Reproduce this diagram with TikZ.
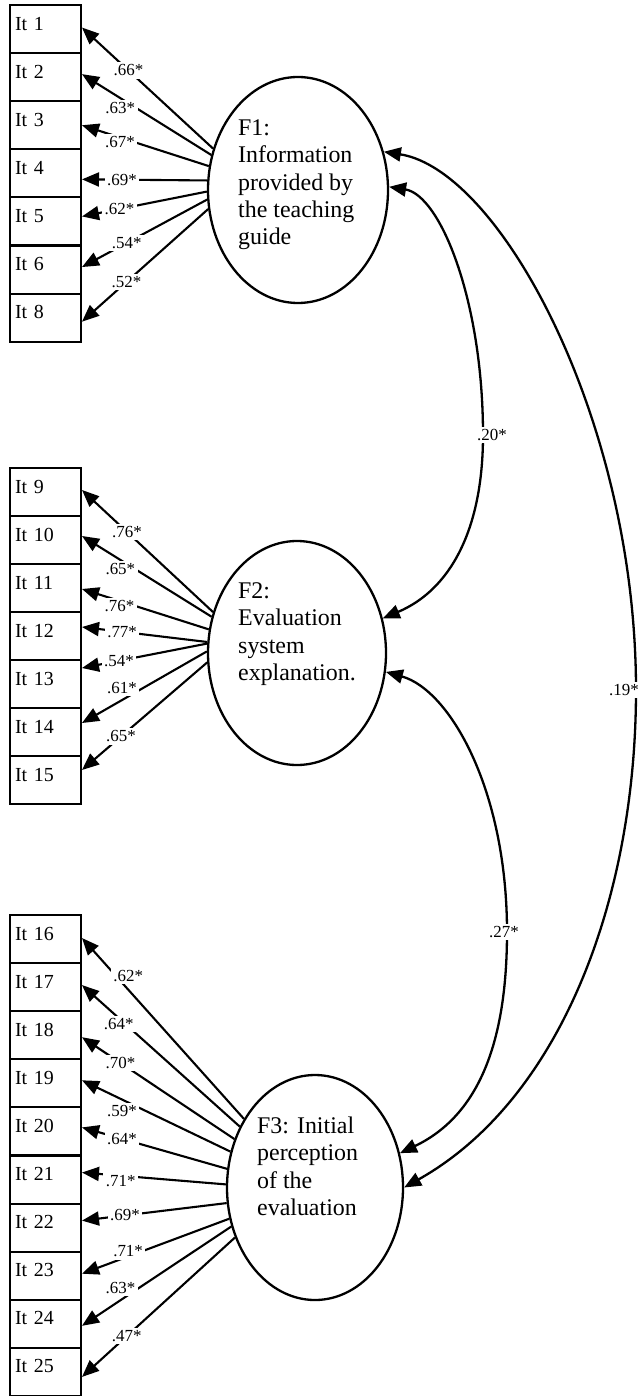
\documentclass[tikz,border=0pt]{standalone}
\usepackage{fontspec}
\setmainfont{Liberation Serif}
\usetikzlibrary{arrows.meta,calc,shapes.geometric}
\begin{document}
\begin{tikzpicture}[x=1bp,y=-1bp,
  >={Triangle[length=17bp,width=14bp]},
  item/.style={draw,line width=2bp,rectangle,inner xsep=5bp,inner ysep=0pt,
    text width=61bp,align=left,text height=25bp,text depth=23bp,
    font=\fontsize{20}{22}\selectfont},
  lat/.style={draw,line width=2.3bp,ellipse,inner sep=0pt},
  lattext/.style={anchor=base west,align=left,inner sep=0pt,
    font=\fontsize{24}{27.5}\selectfont},
  load/.style={<-,line width=2.1bp},
  cov/.style={<->,line width=2.3bp},
  lab/.style={fill=white,inner sep=2.5bp,font=\fontsize{17}{17}\selectfont}]
\useasboundingbox (0,0) rectangle (640,1396);

% item boxes
\foreach \n/\y in {1/29.05,2/77.15,3/125.25,4/173.35,5/221.45,6/269.55,8/317.65,
  9/492,10/540,11/588,12/636,13/684,14/732,15/780,
  16/939,17/987.1,18/1035.2,19/1083.3,20/1131.4,21/1179.5,22/1227.6,23/1275.7,24/1323.8,25/1371.9}
  \node[item] (b\n) at (45.5,\y) {It \n};

% latent factors
\node[lat,minimum width=180bp,minimum height=226bp] (F1) at (298,190) {};
\node[lat,minimum width=178bp,minimum height=224bp] (F2) at (297,653) {};
\node[lat,minimum width=176bp,minimum height=225bp] (F3) at (315,1187.5) {};
% base anchor of a multi-line node is the baseline of its last line
\node[lattext] (F1t) at (238,245) {F1:\\Information\\provided by\\the teaching\\guide};
\node[lattext] (F2t) at (238,680.5) {F2:\\Evaluation\\system\\explanation.};
\node[lattext] (F3t) at (257,1215.5) {F3: Initial\\perception\\of the\\evaluation};

% loadings F1
\draw[load] ($(b1.east)+(0,-1.5)$) -- node[lab,pos=.354]{.66*} (F1.154.6);
\draw[load] ($(b2.east)+(0,-3)$) -- node[lab,pos=.296,yshift=-10bp]{.63*} (F1.158.4);
\draw[load] (b3.east) -- node[lab,pos=.30,yshift=-5bp]{.67*} (F1.165.4);
\draw[load] ($(b4.east)+(0,6)$) -- node[lab,pos=.32]{.69*} (F1.174.3);
\draw[load] ($(b5.east)+(0,-5)$) -- node[lab,pos=.30]{.62*} (F1.181.3);
\draw[load] ($(b6.east)+(0,-2.5)$) -- node[lab,pos=.357]{.54*} (F1.186.4);
\draw[load] ($(b8.east)+(0,4)$) -- node[lab,pos=.352]{.52*} (F1.192.7);

% loadings F2
\draw[load] ($(b9.east)+(0,-2)$) -- node[lab,pos=.344]{.76*} (F2.154.9);
\draw[load] ($(b10.east)+(0,-4)$) -- node[lab,pos=.296,yshift=-9bp]{.65*} (F2.157.5);
\draw[load] ($(b11.east)+(0,1)$) -- node[lab,pos=.296,yshift=-5bp]{.76*} (F2.165.2);
\draw[load] ($(b12.east)+(0,-9)$) -- node[lab,pos=.32]{.77*} (F2.173.6);
\draw[load] ($(b13.east)+(0,-16)$) -- node[lab,pos=.296]{.54*} (F2.174.9);
\draw[load] ($(b14.east)+(0,-9)$) -- node[lab,pos=.32,yshift=12bp]{.61*} (F2.179.4);
\draw[load] ($(b15.east)+(0,-10)$) -- node[lab,pos=.312]{.65*} (F2.186.4);

% loadings F3
\draw[load] ($(b16.east)+(0,-1)$) -- node[lab,pos=.285,yshift=14bp]{.62*} (F3.136.5);
\draw[load] ($(b17.east)+(0,-2)$) -- node[lab,pos=.233,yshift=-6bp]{.64*} (F3.141.7);
\draw[load] ($(b18.east)+(0,2)$) -- node[lab,pos=.253]{.70*} (F3.149.5);
\draw[load] ($(b19.east)+(0,-3)$) -- node[lab,pos=.269,yshift=-12bp]{.59*} (F3.157.3);
\draw[load] ($(b20.east)+(0,-4)$) -- node[lab,pos=.276]{.64*} (F3.168.9);
\draw[load] ($(b21.east)+(0,-7)$) -- node[lab,pos=.269,yshift=-5bp]{.71*} (F3.178.7);
\draw[load] ($(b22.east)+(0,-7)$) -- node[lab,pos=.297]{.69*} (F3.190.4);
\draw[load] ($(b23.east)+(0,-2)$) -- node[lab,pos=.313,yshift=5bp]{.71*} (F3.200.8);
\draw[load] ($(b24.east)+(0,2)$) -- node[lab,pos=.258,yshift=12bp]{.63*} (F3.205.9);
\draw[load] ($(b25.east)+(0,5)$) -- node[lab,pos=.293]{.47*} (F3.212.4);

% covariances
\draw[cov] (F1.2) .. controls (440,195) and (483,300) .. (483,435)
  node[lab,xshift=9bp]{.20*}
  .. controls (483,530) and (450,590) .. (F2.22.5);
\draw[cov] (F2.-12) .. controls (450,690) and (507,790) .. (507,932)
  node[lab,xshift=-3bp]{.27*}
  .. controls (507,1040) and (480,1115) .. (F3.22);
\draw[cov] (F1.24) .. controls (500,170) and (636,420) .. (636,690)
  node[lab,xshift=-12bp]{.19*}
  .. controls (636,900) and (560,1100) .. (F3.0);
\end{tikzpicture}
\end{document}
